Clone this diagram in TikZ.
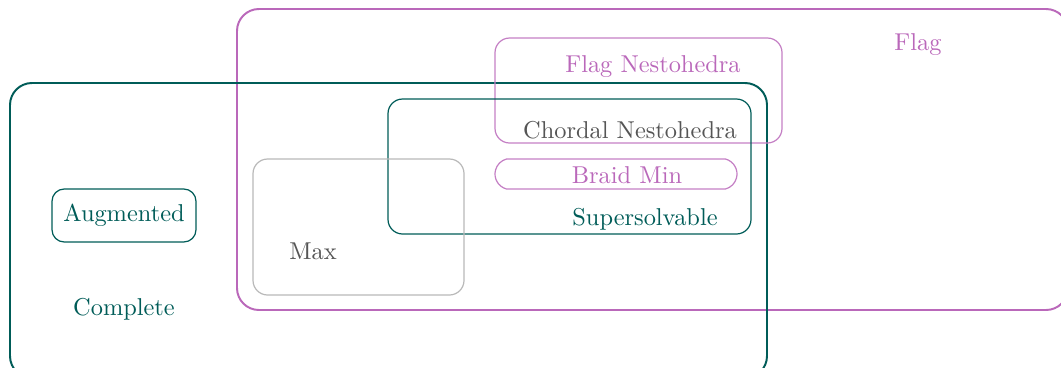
\documentclass[tikz,border=0pt]{standalone}
\usetikzlibrary{shapes.misc}
\definecolor{tealc}{RGB}{0,92,88}
\definecolor{purc}{RGB}{186,104,186}
\definecolor{grayc}{RGB}{185,185,185}
\definecolor{txtgray}{RGB}{85,85,85}
\begin{document}
\begin{tikzpicture}[x=0.41pt,y=-0.41pt,
  bigbox/.style={line width=0.8pt,rounded corners=9pt},
  smallbox/.style={line width=0.5pt,rounded corners=6pt},
  lbl/.style={inner sep=0pt,font=\normalsize}]
\useasboundingbox (0,0) rectangle (1061,367);
\clip (0,0) rectangle (1061,367);
% Flag
\draw[bigbox,purc] (237,9) rectangle (1068,310);
% Complete
\draw[bigbox,tealc] (10,83) rectangle (767,378);
% Flag Nestohedra
\draw[smallbox,purc!85] (495,38) rectangle (782,143);
% Supersolvable
\draw[smallbox,tealc] (388,99) rectangle (751,234);
% Max
\draw[smallbox,grayc] (253,159) rectangle (464,295);
% Braid Min
\node[draw=purc!85,line width=0.5pt,rounded rectangle,rounded rectangle arc length=150,minimum width=242*0.41pt,minimum height=30*0.41pt,inner sep=0pt] (braidbox) at (616,174) {};
% Augmented
\node[draw=tealc,line width=0.5pt,rounded corners=5pt,minimum width=144*0.41pt,minimum height=53*0.41pt,inner sep=0pt] (augbox) at (124,215.5) {};
% labels
\node[lbl,text=purc] (flag) at (918,45) {Flag};
\node[lbl,text=purc] (flagnest) at (653,67) {Flag Nestohedra};
\node[lbl,text=txtgray] (chordal) at (630,130) {Chordal Nestohedra};
\node[lbl,text=purc] (braid) at (627,175) {Braid Min};
\node[lbl,text=tealc] (super) at (645,219) {Supersolvable};
\node[lbl,text=tealc] (aug) at (124,215) {Augmented};
\node[lbl,text=txtgray] (max) at (313,251) {Max};
\node[lbl,text=tealc] (complete) at (124,309) {Complete};
\end{tikzpicture}
\end{document}
